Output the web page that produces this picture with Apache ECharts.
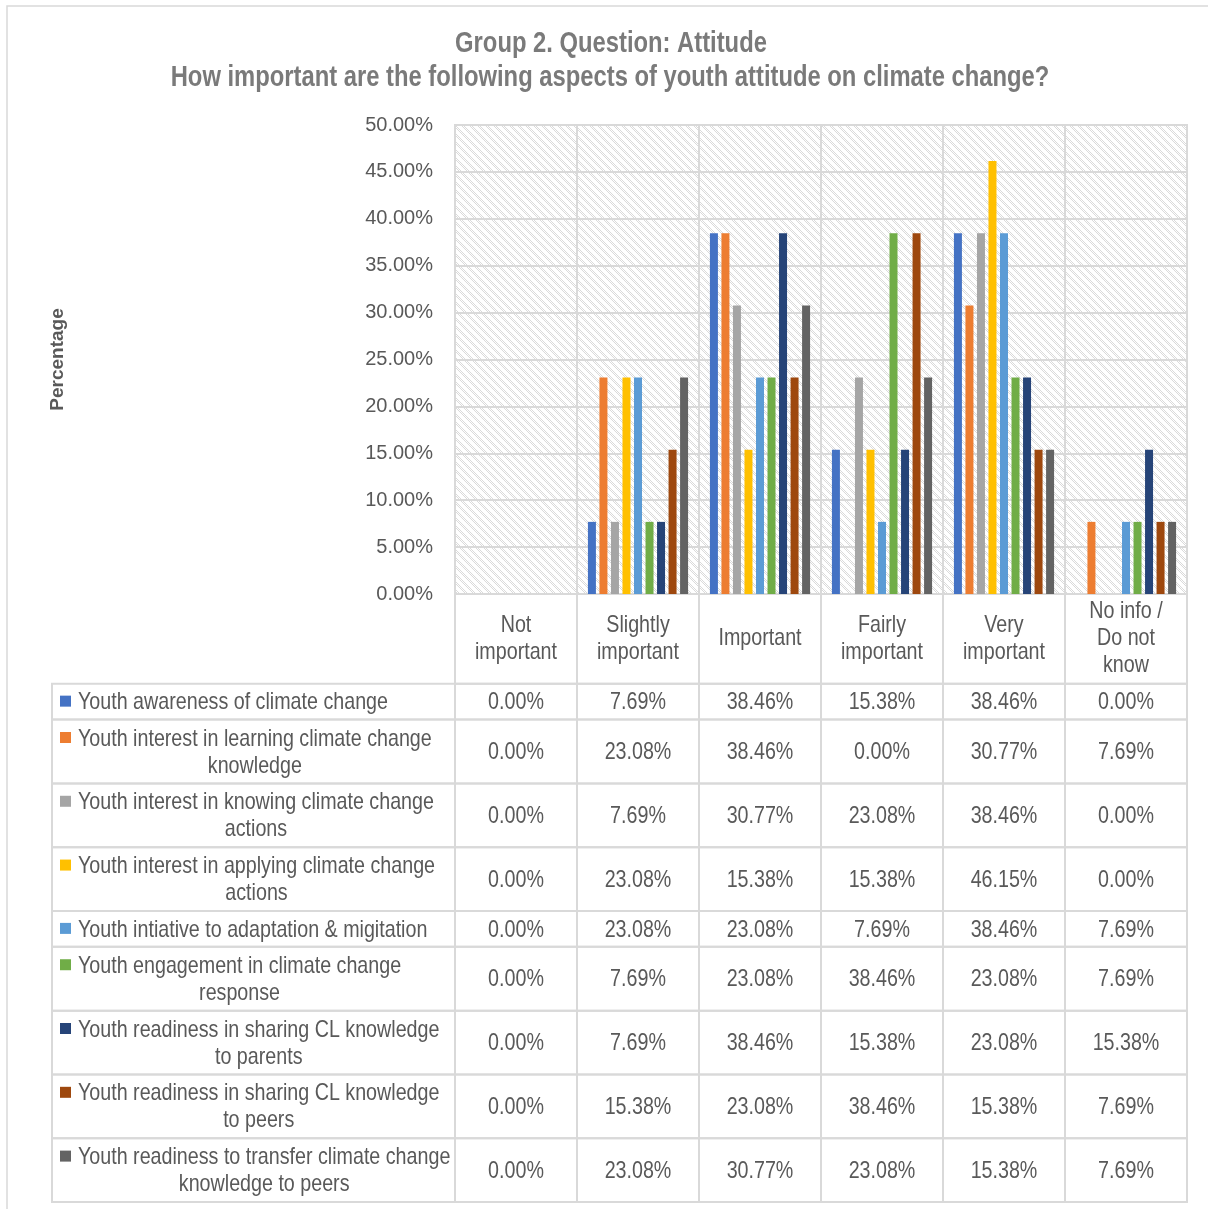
<!DOCTYPE html>
<html>
<head>
<meta charset="utf-8">
<script src="https://cdn.jsdelivr.net/npm/echarts@6/dist/echarts.min.js"></script>
<style>
  html, body { margin: 0; padding: 0; background: #ffffff; }
  #chart { width: 1208px; height: 1209px; }
</style>
</head>
<body>
<div id="chart"></div>
<script>
// ---- data ----
const categories = ['Not important', 'Slightly important', 'Important', 'Fairly important', 'Very important', 'No info / Do not know'];
const headerLabels = ['Not\nimportant', 'Slightly\nimportant', 'Important', 'Fairly\nimportant', 'Very\nimportant', 'No info /\nDo not\nknow'];

const seriesNames = [
  'Youth awareness of climate change',
  'Youth interest in learning climate change knowledge',
  'Youth interest in knowing climate change actions',
  'Youth interest in applying climate change actions',
  'Youth intiative to adaptation & migitation',
  'Youth engagement in climate change response',
  'Youth readiness in sharing CL knowledge to parents',
  'Youth readiness in sharing CL knowledge to peers',
  'Youth readiness to transfer climate change knowledge to peers'
];
// row captions as they wrap in the data table
const rowLabels = [
  'Youth awareness of climate change',
  'Youth interest in learning climate change\nknowledge',
  'Youth interest in knowing climate change\nactions',
  'Youth interest in applying climate change\nactions',
  'Youth intiative to adaptation & migitation',
  'Youth engagement in climate change\nresponse',
  'Youth readiness in sharing CL knowledge\nto parents',
  'Youth readiness in sharing CL knowledge\nto peers',
  'Youth readiness to transfer climate change\nknowledge to peers'
];
const seriesColors = ['#4472C4', '#ED7D31', '#A5A5A5', '#FFC000', '#5B9BD5', '#70AD47', '#264478', '#9E480E', '#636363'];

// percentages per category (Not important ... No info)
const awareness        = [0.00, 7.69, 38.46, 15.38, 38.46, 0.00];
const learningInterest = [0.00, 23.08, 38.46, 0.00, 30.77, 7.69];
const knowingInterest  = [0.00, 7.69, 30.77, 23.08, 38.46, 0.00];
const applyingInterest = [0.00, 23.08, 15.38, 15.38, 46.15, 0.00];
const initiative       = [0.00, 23.08, 23.08, 7.69, 38.46, 7.69];
const engagement       = [0.00, 7.69, 23.08, 38.46, 23.08, 7.69];
const shareParents     = [0.00, 7.69, 38.46, 15.38, 23.08, 15.38];
const sharePeers       = [0.00, 15.38, 23.08, 38.46, 15.38, 7.69];
const transferPeers    = [0.00, 23.08, 30.77, 23.08, 15.38, 7.69];
const seriesValues = [awareness, learningInterest, knowingInterest, applyingInterest, initiative, engagement, shareParents, sharePeers, transferPeers];

// value axis ticks (percent)
const yMin = 0, yMax = 50, yStep = 5;

// ---- styling ----
const FONT = '"Liberation Sans", Arial, sans-serif';
const NARROW = 0.82;          // horizontal squeeze for a narrow face
const TEXT = '#595959';
const LINE = '#D9D9D9';
const FS = 24;

// diagonal hatch fill for the plot area
function hatchPattern() {
  const c = document.createElement('canvas');
  c.width = 8; c.height = 8;
  const g = c.getContext('2d');
  g.fillStyle = '#ffffff';
  g.fillRect(0, 0, 8, 8);
  g.fillStyle = '#DADADA';
  for (let y = 0; y < 8; y++) {
    for (let x = 0; x < 8; x++) {
      const d = ((x - y) % 8 + 8) % 8;
      if (d === 0 || d === 2) g.fillRect(x, y, 1, 1);
    }
  }
  return { image: c, repeat: 'repeat' };
}

const measureCtx = document.createElement('canvas').getContext('2d');
measureCtx.font = FS + 'px ' + FONT;
function textWidth(s) { return measureCtx.measureText(s).width * NARROW; }

function narrowText(text, x, y, align, extra) {
  return {
    type: 'text',
    x: x, y: y, scaleX: NARROW,
    style: Object.assign({ text: text, x: 0, y: 0, align: align, verticalAlign: 'middle',
                           font: FS + 'px ' + FONT, fill: TEXT, lineHeight: 27 }, extra || {})
  };
}

// data table rows: header + one per series, heights follow line count
const HEADER_H = 90, ONE_LINE_H = 36, TWO_LINE_H = 64;
const rowHeights = rowLabels.map(l => (l.indexOf('\n') >= 0 ? TWO_LINE_H : ONE_LINE_H));
const tableTotal = HEADER_H + rowHeights.reduce((a, b) => a + b, 0);

const tableData = [];
headerLabels.forEach((h, c) => tableData.push([c, 0, HEADER_H, -1]));
let acc = HEADER_H;
rowHeights.forEach((h, r) => {
  tableData.push([-1, acc, acc + h, r]);
  for (let c = 0; c < categories.length; c++) tableData.push([c, acc, acc + h, r]);
  acc += h;
});

const LABEL_LEFT = 52;

function renderCell(params, api) {
  const col = api.value(0), y0 = api.value(1), y1 = api.value(2), row = api.value(3);
  const bw = api.size([1, 0])[0];
  const top = api.coord([0, y0])[1];
  const bot = api.coord([0, y1])[1];
  let left, right;
  if (col >= 0) {
    const cx = api.coord([col, y0])[0];
    left = cx - bw / 2; right = cx + bw / 2;
  } else {
    right = api.coord([0, y0])[0] - bw / 2;
    left = LABEL_LEFT;
  }
  const cy = (top + bot) / 2;
  const children = [{
    type: 'rect',
    shape: { x: left, y: top, width: right - left, height: bot - top },
    style: { fill: 'none', stroke: LINE, lineWidth: 2 }
  }];
  if (row < 0) {
    children.push(narrowText(headerLabels[col], (left + right) / 2, cy, 'center'));
  } else if (col < 0) {
    const label = rowLabels[row];
    const lines = label.split('\n');
    const w = textWidth(lines[0]);
    const firstY = cy - (lines.length - 1) * 27 / 2;
    children.push({
      type: 'rect',
      shape: { x: left + 8, y: firstY - 6, width: 11, height: 11 },
      style: { fill: seriesColors[row] }
    });
    children.push(narrowText(label, left + 26 + w / 2, cy + 1, 'center'));
  } else {
    children.push(narrowText(seriesValues[row][col].toFixed(2) + '%', (left + right) / 2, cy + 1, 'center'));
  }
  return { type: 'group', children: children };
}

const chart = echarts.init(document.getElementById('chart'), null, { renderer: 'canvas' });

const barSeries = seriesNames.map((name, i) => ({
  name: name,
  type: 'bar',
  xAxisIndex: 0,
  yAxisIndex: 0,
  data: seriesValues[i],
  barWidth: 8,
  barGap: '44%',
  itemStyle: { color: seriesColors[i] },
  silent: true,
  animation: false
}));

const titleStyle = { font: 'bold 29px ' + FONT, fill: '#7A7A7A', align: 'center', verticalAlign: 'middle', x: 0, y: 0 };

chart.setOption({
  animation: false,
  backgroundColor: '#ffffff',
  graphic: [
    {
      type: 'rect',
      silent: true,
      shape: { x: 7, y: 6, width: 1230, height: 1230 },
      style: { fill: 'none', stroke: LINE, lineWidth: 1.5 },
      z: -1
    },
    { type: 'text', silent: true, x: 611, y: 44, scaleX: NARROW,
      style: Object.assign({ text: 'Group 2. Question: Attitude' }, titleStyle) },
    { type: 'text', silent: true, x: 610, y: 78, scaleX: NARROW,
      style: Object.assign({ text: 'How important are the following aspects of youth attitude on climate change?' }, titleStyle) }
  ],
  grid: [
    { left: 455, top: 125, width: 732, height: 469, show: true, backgroundColor: hatchPattern(), borderColor: LINE, borderWidth: 2, containLabel: false },
    { left: 455, top: 594, width: 732, height: 608, show: false, containLabel: false }
  ],
  xAxis: [
    { type: 'category', gridIndex: 0, data: categories, boundaryGap: true,
      axisLine: { show: false }, axisTick: { show: false }, axisLabel: { show: false },
      splitLine: { show: true, interval: 0, lineStyle: { color: LINE, width: 2 } } },
    { type: 'category', gridIndex: 1, data: categories, boundaryGap: true,
      axisLine: { show: false }, axisTick: { show: false }, axisLabel: { show: false }, splitLine: { show: false } }
  ],
  yAxis: [
    { type: 'value', gridIndex: 0, min: yMin, max: yMax, interval: yStep,
      name: 'Percentage', nameLocation: 'middle', nameGap: 388, nameRotate: 90,
      nameTextStyle: { fontFamily: FONT, fontSize: 19, fontWeight: 'bold', color: TEXT },
      axisLine: { show: false }, axisTick: { show: false },
      axisLabel: { margin: 22, fontFamily: FONT, fontSize: 20, color: TEXT, formatter: v => v.toFixed(2) + '%' },
      splitLine: { show: true, lineStyle: { color: LINE, width: 2 } } },
    { type: 'value', gridIndex: 1, min: 0, max: tableTotal, inverse: true, show: false }
  ],
  series: barSeries.concat([{
    type: 'custom',
    xAxisIndex: 1,
    yAxisIndex: 1,
    data: tableData,
    renderItem: renderCell,
    clip: false,
    silent: true,
    animation: false
  }])
});
</script>
</body>
</html>
